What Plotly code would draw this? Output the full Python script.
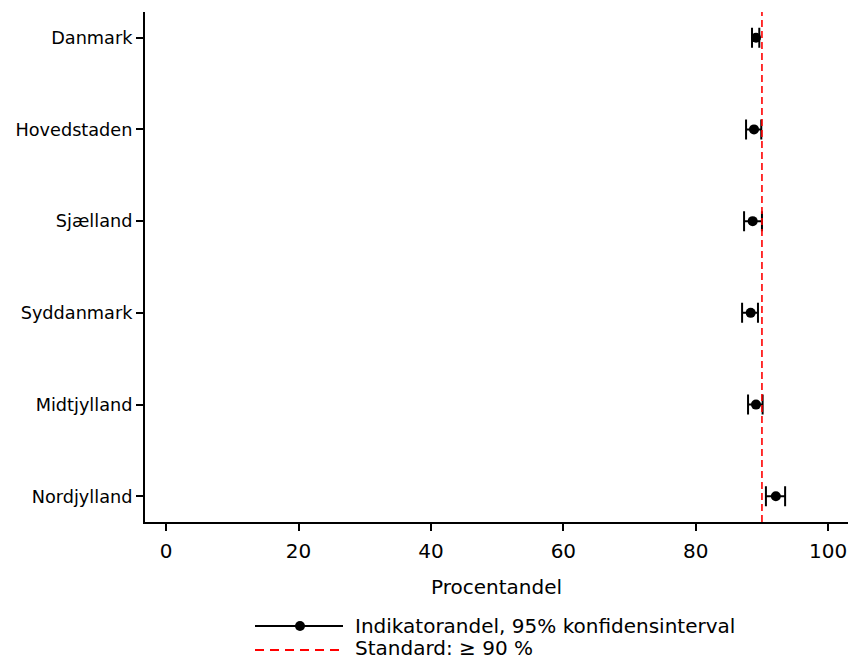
import plotly.graph_objects as go

regions = ["Danmark", "Hovedstaden", "Sjælland", "Syddanmark", "Midtjylland", "Nordjylland"]
estimate = [89.1, 88.8, 88.6, 88.3, 89.1, 92.1]
ci_low = [88.5, 87.6, 87.3, 87.0, 87.9, 90.6]
ci_high = [89.6, 89.9, 90.0, 89.4, 90.1, 93.5]
standard = 90
x_ticks = [0, 20, 40, 60, 80, 100]

ypos = list(range(len(regions)))
plus = [h - e for h, e in zip(ci_high, estimate)]
minus = [e - l for e, l in zip(estimate, ci_low)]

FONT = "DejaVu Sans"

fig = go.Figure()
fig.add_trace(go.Scatter(
    x=estimate, y=ypos, mode="markers",
    marker=dict(color="black", size=10),
    error_x=dict(type="data", array=plus, arrayminus=minus, color="black",
                 thickness=2, width=10, symmetric=False),
    showlegend=False,
))

shapes = [
    dict(type="line", xref="x", yref="paper", x0=standard, x1=standard, y0=0, y1=1,
         line=dict(color="red", width=1.6, dash="7px,4px")),
]
# manual legend (plot area spans 703 x 510 px, starting at 145, 12)
lx0, lx1, lxm = (255 - 145) / 703, (343 - 145) / 703, (300 - 145) / 703
ly1, ly2 = (522 - 626) / 510, (522 - 650) / 510
shapes.append(dict(type="line", xref="paper", yref="paper", x0=lx0, x1=lx1, y0=ly1, y1=ly1,
                   line=dict(color="black", width=1.8)))
shapes.append(dict(type="circle", xref="paper", yref="paper", xsizemode="pixel", ysizemode="pixel",
                   xanchor=lxm, yanchor=ly1, x0=-5, x1=5, y0=-5, y1=5,
                   fillcolor="black", line=dict(color="black", width=0)))
shapes.append(dict(type="line", xref="paper", yref="paper", x0=lx0, x1=lx1, y0=ly2, y1=ly2,
                   line=dict(color="red", width=1.8, dash="9px,6px")))

tx = (353 - 145) / 703
annotations = [
    dict(xref="paper", yref="paper", x=tx, y=ly1, xanchor="left", yanchor="middle",
         text="Indikatorandel, 95% konfidensinterval", showarrow=False,
         font=dict(family=FONT, size=20, color="black")),
    dict(xref="paper", yref="paper", x=tx, y=(522 - 648) / 510, xanchor="left", yanchor="middle",
         text="Standard: ≥ 90 %", showarrow=False,
         font=dict(family=FONT, size=20, color="black")),
]

fig.update_layout(
    width=849, height=659,
    margin=dict(l=145, r=1, t=12, b=137),
    paper_bgcolor="white", plot_bgcolor="white",
    shapes=shapes, annotations=annotations,
    showlegend=False,
    font=dict(family=FONT, color="black"),
)
fig.update_xaxes(
    range=[-3.2, 103], tickvals=x_ticks, ticktext=[str(t) for t in x_ticks],
    showgrid=False, zeroline=False, showline=True, linecolor="black", linewidth=2,
    ticks="outside", ticklen=7, tickwidth=1.8, tickcolor="black", ticklabelstandoff=3,
    tickfont=dict(family=FONT, size=20, color="black"),
    title=dict(text="Procentandel", font=dict(family=FONT, size=20, color="black"), standoff=18),
)
fig.update_yaxes(
    range=[5.28, -0.28], tickvals=ypos, ticktext=regions,
    showgrid=False, zeroline=False, showline=True, linecolor="black", linewidth=2,
    ticks="outside", ticklen=7, tickwidth=1.8, tickcolor="black",
    tickfont=dict(family=FONT, size=17.7, color="black"),
)

fig.write_html(
    "out.html",
    config={"displayModeBar": False},
    post_script="document.body.style.margin='0';document.body.style.overflow='hidden';",
)
